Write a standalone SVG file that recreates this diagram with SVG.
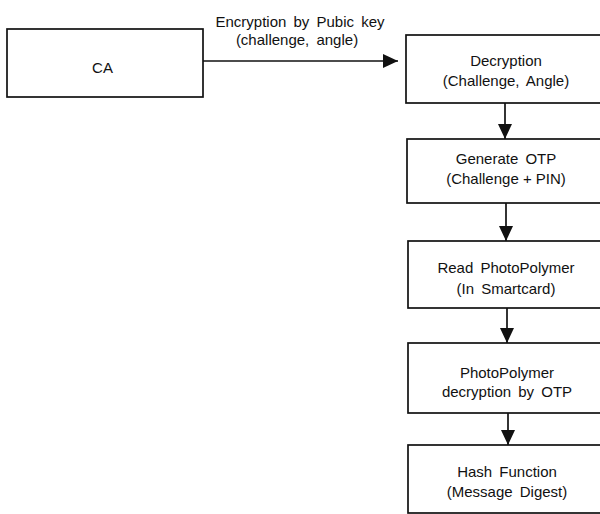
<svg xmlns="http://www.w3.org/2000/svg" width="600" height="514" viewBox="0 0 600 514">
  <style>
    .box { fill: #ffffff; stroke: #111111; stroke-width: 1.7; }
    .lbl { font-family: "Liberation Sans", Arial, sans-serif; font-size: 15px; fill: #111111; text-anchor: middle; word-spacing: 3px; }
    .tight { word-spacing: 0; }
    .wire { stroke: #111111; stroke-width: 1.7; fill: none; marker-end: url(#head); }
  </style>
  <defs>
    <marker id="head" markerUnits="userSpaceOnUse" markerWidth="16" markerHeight="16" refX="15" refY="7" orient="auto">
      <path d="M0,0 L15,7 L0,14 Z" fill="#111111"/>
    </marker>
  </defs>
  <rect width="600" height="514" fill="#ffffff"/>

  <g id="connectors">
    <line class="wire" x1="203" y1="61" x2="398" y2="61"/>
    <text class="lbl" x="300" y="27">Encryption by Pubic key</text>
    <text class="lbl" x="297" y="45">(challenge, angle)</text>
    <line class="wire" x1="505" y1="103" x2="505" y2="139"/>
    <line class="wire" x1="506" y1="203" x2="506" y2="241"/>
    <line class="wire" x1="507" y1="308" x2="507" y2="343"/>
    <line class="wire" x1="508" y1="413" x2="508" y2="445"/>
  </g>

  <g id="ca">
    <rect class="box" x="7" y="29" width="196" height="68"/>
    <text class="lbl" x="102.5" y="73">CA</text>
  </g>

  <g id="decryption">
    <rect class="box" x="406" y="35" width="210" height="68"/>
    <text class="lbl" x="506" y="66">Decryption</text>
    <text class="lbl" x="506" y="86">(Challenge, Angle)</text>
  </g>

  <g id="generate-otp">
    <rect class="box" x="407" y="139" width="210" height="64"/>
    <text class="lbl" x="506" y="164">Generate OTP</text>
    <text class="lbl tight" x="506" y="184">(Challenge + PIN)</text>
  </g>

  <g id="read-photopolymer">
    <rect class="box" x="408" y="241" width="210" height="67"/>
    <text class="lbl" x="506" y="273">Read PhotoPolymer</text>
    <text class="lbl" x="506" y="294">(In Smartcard)</text>
  </g>

  <g id="photopolymer-decryption">
    <rect class="box" x="408" y="343" width="210" height="70"/>
    <text class="lbl" x="507" y="378">PhotoPolymer</text>
    <text class="lbl" x="507" y="397">decryption by OTP</text>
  </g>

  <g id="hash-function">
    <rect class="box" x="408" y="445" width="210" height="68"/>
    <text class="lbl" x="507" y="477">Hash Function</text>
    <text class="lbl" x="507" y="497">(Message Digest)</text>
  </g>
</svg>
